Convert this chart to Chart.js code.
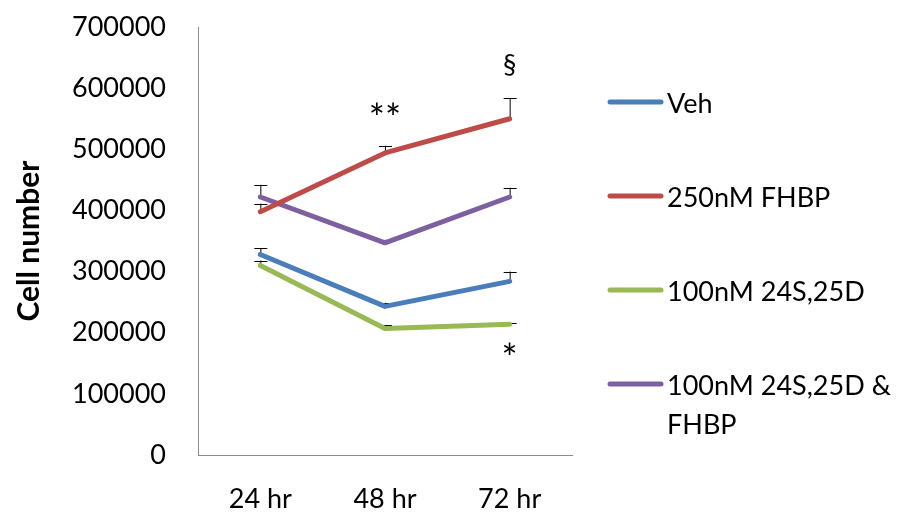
<!DOCTYPE html>
<html>
<head>
<meta charset="utf-8">
<script src="https://cdn.jsdelivr.net/npm/chart.js@4"></script>
<style>
  html, body { margin: 0; padding: 0; background: #fff; }
  #wrap { width: 910px; height: 520px; }
</style>
</head>
<body>
<div id="wrap"><canvas id="cell-chart"></canvas></div>
<script>
// Cell number chart
const timeLabels = ["24 hr", "48 hr", "72 hr"];

const vehValues = [328000, 243000, 284000];
const vehErrors = [10000, 6000, 16000];

const fhbpValues = [398000, 494000, 550000];
const fhbpErrors = [13000, 12000, 34000];

const d24Values = [310000, 207000, 214000];
const d24Errors = [8000, 5000, 1500];

const comboValues = [422000, 347000, 422000];
const comboErrors = [20000, 5000, 15000];

const seriesNames = [
  "Veh",
  "250nM FHBP",
  "100nM 24S,25D",
  ["100nM 24S,25D &", "FHBP"],
];

// significance marks: text, category index, value
const markTexts = ["**", "§", "*"];
const markIndexes = [1, 2, 2];
const markValues = [548000, 637000, 155000];

const yTicks = [0, 100000, 200000, 300000, 400000, 500000, 600000, 700000];

const FONT = "Lato, 'Open Sans', sans-serif";

// error bars (upper only) drawn under the lines
const errorBars = {
  id: "errorBars",
  beforeDatasetsDraw(chart) {
    const ctx = chart.ctx;
    const x = chart.scales.x;
    const y = chart.scales.y;
    ctx.save();
    ctx.strokeStyle = "#000";
    ctx.lineWidth = 1;
    chart.data.datasets.forEach((ds) => {
      ds.data.forEach((v, i) => {
        const px = x.getPixelForValue(i);
        const top = y.getPixelForValue(v + ds.errors[i]);
        const base = y.getPixelForValue(v);
        ctx.beginPath();
        ctx.moveTo(px + 0.5, base);
        ctx.lineTo(px + 0.5, top);
        ctx.moveTo(px - 6, Math.round(top) + 0.5);
        ctx.lineTo(px + 7, Math.round(top) + 0.5);
        ctx.stroke();
      });
    });
    ctx.restore();
  },
};

// significance marks + custom legend
const extras = {
  id: "extras",
  afterDraw(chart) {
    const ctx = chart.ctx;
    const x = chart.scales.x;
    const y = chart.scales.y;
    ctx.save();
    ctx.fillStyle = "#000";
    ctx.textAlign = "center";
    ctx.textBaseline = "middle";
    markTexts.forEach((t, i) => {
      ctx.font = (t === "§" ? "27px " : "38px ") + FONT;
      ctx.fillText(t, x.getPixelForValue(markIndexes[i]), y.getPixelForValue(markValues[i]));
    });

    ctx.font = "27px " + FONT;
    ctx.textAlign = "left";
    chart.data.datasets.forEach((ds, i) => {
      const cy = 102 + i * 94;
      ctx.strokeStyle = ds.borderColor;
      ctx.lineWidth = 5;
      ctx.lineCap = "round";
      ctx.beginPath();
      ctx.moveTo(610, cy);
      ctx.lineTo(661, cy);
      ctx.stroke();
      const lines = Array.isArray(ds.label) ? ds.label : [ds.label];
      lines.forEach((ln, j) => ctx.fillText(ln, 667, cy + 2 + j * 39));
    });
    ctx.restore();
  },
};

const cellData = {
  labels: timeLabels,
  datasets: [
    { label: seriesNames[0], data: vehValues, errors: vehErrors, borderColor: "#4a7ebb" },
    { label: seriesNames[1], data: fhbpValues, errors: fhbpErrors, borderColor: "#be4b48" },
    { label: seriesNames[2], data: d24Values, errors: d24Errors, borderColor: "#98b954" },
    { label: seriesNames[3], data: comboValues, errors: comboErrors, borderColor: "#7d60a0" },
  ],
};

const cellConfig = {
  type: "line",
  data: cellData,
  options: {
    responsive: true,
    maintainAspectRatio: false,
    animation: false,
    devicePixelRatio: 1,
    datasets: {
      line: {
        borderWidth: 5,
        tension: 0,
        pointRadius: 0,
        borderCapStyle: "round",
        borderJoinStyle: "round",
        fill: false,
      },
    },
    layout: { padding: { top: 27, right: 338, bottom: 0, left: 0 } },
    plugins: {
      legend: { display: false },
      tooltip: { enabled: false },
    },
    scales: {
      x: {
        offset: true,
        grid: { display: false, drawTicks: false },
        border: { display: true, color: "#8c8c8c", width: 1 },
        ticks: { color: "#000", font: { family: FONT, size: 27 }, padding: 28 },
        afterFit(scale) { scale.height = 65; },
      },
      y: {
        min: 0,
        max: 700000,
        afterBuildTicks(scale) { scale.ticks = yTicks.map((v) => ({ value: v })); },
        grid: { display: false, drawTicks: false },
        border: { display: true, color: "#8c8c8c", width: 1 },
        ticks: {
          color: "#000",
          font: { family: FONT, size: 27 },
          padding: 32,
          callback: (v) => String(v),
        },
        title: {
          display: true,
          text: "Cell number",
          color: "#000",
          font: { family: FONT, size: 30, weight: "bold" },
          padding: { top: 11, bottom: 0 },
        },
        afterFit(scale) {
          scale.width = 198;
          scale.paddingTop = 0;
          scale.paddingBottom = 0;
        },
      },
    },
  },
  plugins: [errorBars, extras],
};

const cellChart = new Chart(document.getElementById("cell-chart"), cellConfig);
</script>
</body>
</html>
